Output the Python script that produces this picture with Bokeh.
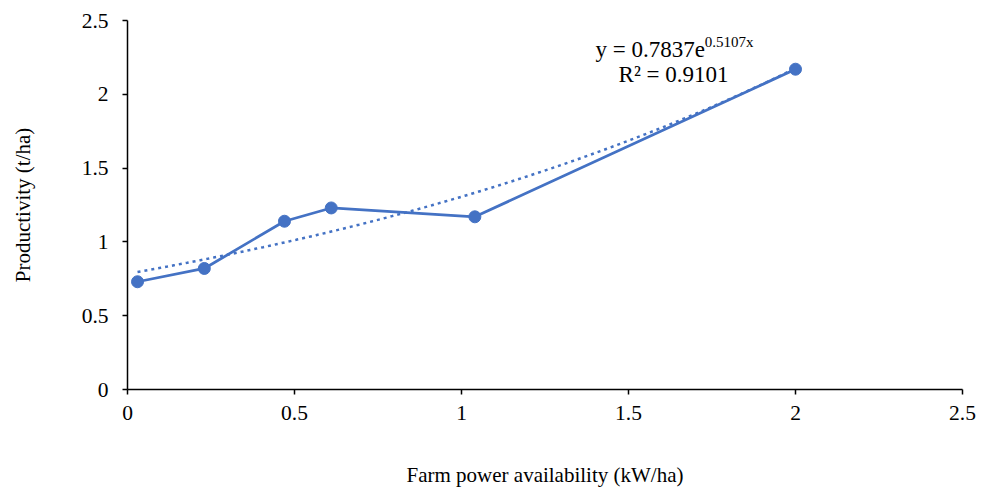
import numpy as np
from bokeh.plotting import figure
from bokeh.models import Label, Range1d, FixedTicker
from bokeh.embed import file_html
from bokeh.resources import INLINE

# Data
power = [0.03, 0.23, 0.47, 0.61, 1.04, 2.0]
productivity = [0.73, 0.82, 1.14, 1.23, 1.17, 2.17]
# Exponential trendline coefficients shown on the chart
trend_a = 0.7837
trend_b = 0.5107
r_squared = 0.9101
x_ticks = [0, 0.5, 1, 1.5, 2, 2.5]
y_ticks = [0, 0.5, 1, 1.5, 2, 2.5]
x_tick_labels = {0: "0", 0.5: "0.5", 1: "1", 1.5: "1.5", 2: "2", 2.5: "2.5"}
y_tick_labels = {0: "0", 0.5: "0.5", 1: "1", 1.5: "1.5", 2: "2", 2.5: "2.5"}

COLOR = "#4472C4"
FONT = "Liberation Serif"

p = figure(width=987, height=489, output_backend="svg", toolbar_location=None,
           x_range=Range1d(0, 2.5), y_range=Range1d(0, 2.5),
           min_border_left=127, min_border_right=25, min_border_top=20, min_border_bottom=99)
p.outline_line_color = None
p.xgrid.grid_line_color = None
p.ygrid.grid_line_color = None
p.background_fill_color = "white"
p.border_fill_color = "white"

for ax in (p.xaxis[0], p.yaxis[0]):
    ax.axis_line_color = "black"
    ax.axis_line_width = 1.5
    ax.major_tick_line_color = "black"
    ax.major_tick_line_width = 1.5
    ax.major_tick_in = 0
    ax.major_tick_out = 5
    ax.minor_tick_line_color = None
    ax.major_label_text_font = FONT
    ax.major_label_text_font_size = "21.5px"
    ax.major_label_text_color = "#000000"
    ax.axis_label_text_font = FONT
    ax.axis_label_text_font_size = "21px"
    ax.axis_label_text_font_style = "normal"
    ax.axis_label_text_color = "#000000"

p.xaxis.ticker = FixedTicker(ticks=x_ticks)
p.yaxis.ticker = FixedTicker(ticks=y_ticks)
p.xaxis.major_label_overrides = x_tick_labels
p.yaxis.major_label_overrides = y_tick_labels
p.xaxis.axis_label = "Farm power availability (kW/ha)"
p.yaxis.axis_label = "Productivity (t/ha)"
p.xaxis.major_label_standoff = 11
p.yaxis.major_label_standoff = 14
p.xaxis.axis_label_standoff = 40
p.yaxis.axis_label_standoff = 44

# Trendline from the displayed equation
tx = np.linspace(min(power), max(power), 200)
ty = trend_a * np.exp(trend_b * tx)
p.line(tx, ty, line_color=COLOR, line_width=2.5, line_dash="3 4")

# Series
p.line(power, productivity, line_color=COLOR, line_width=2.75)
p.scatter(power, productivity, size=12, fill_color=COLOR, line_color=COLOR)

# Equation labels
p.add_layout(Label(x=1.401, y=2.304, text="y = 0.7837e", text_font=FONT,
                   text_font_size="23px", text_align="left", text_baseline="alphabetic",
                   text_color="black"))
p.add_layout(Label(x=1.728, y=2.352, text="0.5107x", text_font=FONT,
                   text_font_size="15px", text_align="left", text_baseline="alphabetic",
                   text_color="black"))
p.add_layout(Label(x=1.635, y=2.135, text="R² = %.4f" % r_squared, text_font=FONT,
                   text_font_size="23px", text_align="center", text_baseline="alphabetic",
                   text_color="black"))

open("out.html", "w").write(file_html(p, INLINE))
